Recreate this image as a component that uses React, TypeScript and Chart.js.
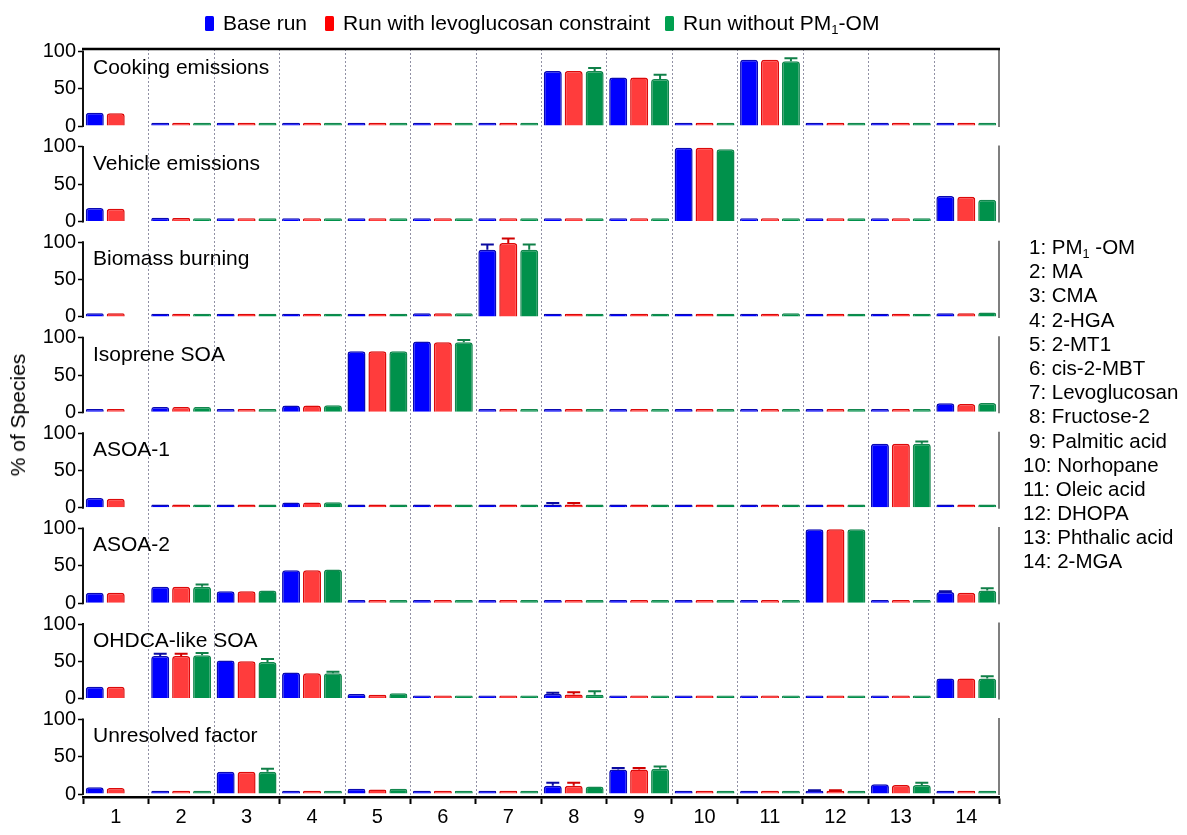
import React, { useEffect, useRef } from "react";
import { Chart, registerables } from "chart.js";

Chart.register(...registerables);

const FONT = '"Liberation Sans", Arial, Helvetica, sans-serif';

// ---------- categories / labels ----------
const categories = ["1", "2", "3", "4", "5", "6", "7", "8", "9", "10", "11", "12", "13", "14"];
const speciesNames = [
  "PM1 -OM", "MA", "CMA", "2-HGA", "2-MT1", "cis-2-MBT", "Levoglucosan",
  "Fructose-2", "Palmitic acid", "Norhopane", "Oleic acid", "DHOPA", "Phthalic acid", "2-MGA",
];
const seriesNames = ["Base run", "Run with levoglucosan constraint", "Run without PM1-OM"];
const panelTitles = [
  "Cooking emissions", "Vehicle emissions", "Biomass burning", "Isoprene SOA",
  "ASOA-1", "ASOA-2", "OHDCA-like SOA", "Unresolved factor",
];
const yTickValues = [0, 50, 100];

// ---------- values (% of species) ----------
const cookingBase = [18, 1, 0.5, 0.5, 0.8, 0.5, 2.5, 74, 65, 0.5, 89, 0.5, 0.5, 1.5];
const cookingLev = [17, 0.8, 0.5, 0.5, 0.5, 0.5, 0.3, 74, 65, 0.5, 89, 0.5, 0.5, 1];
const cookingNoPM = [null, 0.5, 0.5, 0.5, 0.8, 0.5, 2, 74, 63, 0.5, 87, 0.5, 0.5, 2];
const cookingBaseErr = [0, 0, 0, 0, 0, 0, 0, 0, 0, 0, 0, 0, 0, 0];
const cookingLevErr = [0, 0, 0, 0, 0, 0, 0, 0, 0, 0, 0, 0, 0, 0];
const cookingNoPMErr = [0, 0, 0, 0, 0, 0, 0, 4, 6, 0, 4, 0, 0, 0];

const vehicleBase = [18, 5, 0.5, 0.5, 0.8, 0.5, 0.5, 0.5, 0.8, 99, 0.8, 0.5, 0.5, 34];
const vehicleLev = [17, 4.5, 0.5, 0.5, 0.8, 0.5, 0.5, 0.5, 0.5, 99, 0.5, 0.5, 0.5, 33];
const vehicleNoPM = [null, 3, 0.5, 0.5, 0.5, 0.5, 0.5, 0.5, 0.5, 97, 0.5, 0.5, 0.5, 29];
const vehicleBaseErr = [0, 0, 0, 0, 0, 0, 0, 0, 0, 0, 0, 0, 0, 0];
const vehicleLevErr = [0, 0, 0, 0, 0, 0, 0, 0, 0, 0, 0, 0, 0, 0];
const vehicleNoPMErr = [0, 0, 0, 0, 0, 0, 0, 0, 0, 0, 0, 0, 0, 0];

const biomassBase = [5, 1.5, 0.5, 0.5, 0.5, 5, 90, 0.5, 0.5, 0.5, 4, 0.5, 0.5, 5];
const biomassLev = [5, 1.5, 0.5, 0.5, 0.5, 5, 99, 0.5, 0.5, 0.5, 4, 0.5, 0.5, 5];
const biomassNoPM = [null, 0.5, 0.5, 0.5, 0.5, 5, 90, 0.5, 1, 1.5, 5, 0.5, 0.5, 6];
const biomassBaseErr = [0, 0, 0, 0, 0, 0, 7, 0, 0, 0, 0, 0, 0, 0];
const biomassLevErr = [0, 0, 0, 0, 0, 0, 6, 0, 0, 0, 0, 0, 0, 0];
const biomassNoPMErr = [0, 0, 0, 0, 0, 0, 7, 0, 0, 0, 0, 0, 0, 0];

const isopreneBase = [3, 7, 0.5, 9, 82, 95, 2, 2.5, 0.5, 0.5, 0.5, 0.5, 0.5, 12];
const isopreneLev = [3, 7, 0.5, 9, 82, 94, 0.3, 2, 0.5, 0.5, 0.5, 0.5, 0.5, 11];
const isopreneNoPM = [null, 7, 0.5, 9.5, 82, 94, 1.5, 1.5, 0.5, 0.5, 0.5, 0.5, 0.5, 12.5];
const isopreneBaseErr = [0, 0, 0, 0, 0, 0, 0, 0, 0, 0, 0, 0, 0, 0];
const isopreneLevErr = [0, 0, 0, 0, 0, 0, 0, 0, 0, 0, 0, 0, 0, 0];
const isopreneNoPMErr = [0, 0, 0, 0, 0, 3, 0, 0, 0, 0, 0, 0, 0, 0];

const asoa1Base = [13, 2, 0.5, 7, 0.5, 0.5, 0.5, 3.5, 0.5, 0.5, 2.5, 0.5, 86, 2];
const asoa1Lev = [12, 2, 0.5, 7, 0.5, 0.5, 0.5, 3.5, 0.5, 0.5, 1.5, 0.5, 86, 2];
const asoa1NoPM = [null, 1, 0.5, 7.5, 0.5, 0.5, 0.5, 2.5, 0.5, 0.5, 1.5, 0.5, 86, 2];
const asoa1BaseErr = [0, 0, 0, 0, 0, 0, 0, 3, 0, 0, 0, 0, 0, 0];
const asoa1LevErr = [0, 0, 0, 0, 0, 0, 0, 3, 0, 0, 0, 0, 0, 0];
const asoa1NoPMErr = [0, 0, 0, 0, 0, 0, 0, 0, 0, 0, 0, 0, 3, 0];

const asoa2Base = [14, 22, 16, 44, 3, 0.5, 0.5, 0.5, 0.5, 0.5, 3, 99, 0.5, 15];
const asoa2Lev = [14, 22, 16, 44, 2, 0.5, 0.3, 0.5, 0.5, 0.5, 2, 99, 0.5, 14];
const asoa2NoPM = [null, 22, 17, 45, 2, 0.5, 0.5, 0.5, 0.5, 0.5, 2, 99, 0.5, 17];
const asoa2BaseErr = [0, 0, 0, 0, 0, 0, 0, 0, 0, 0, 0, 0, 0, 1];
const asoa2LevErr = [0, 0, 0, 0, 0, 0, 0, 0, 0, 0, 0, 0, 0, 0];
const asoa2NoPMErr = [0, 3, 0, 0, 0, 0, 0, 0, 0, 0, 0, 0, 0, 3];

const ohdcaBase = [16, 57, 51, 35, 6, 0.5, 1.5, 6, 0.5, 0.5, 0.5, 0.5, 0.5, 27];
const ohdcaLev = [16, 57, 50, 34, 5, 0.5, 0.3, 5.5, 0.5, 0.5, 0.5, 0.5, 0.5, 27];
const ohdcaNoPM = [null, 58, 49, 34, 7, 0.5, 1, 5, 0.5, 0.5, 0.5, 0.5, 0.5, 27];
const ohdcaBaseErr = [0, 3, 0, 0, 0, 0, 0, 2, 0, 0, 0, 0, 0, 0];
const ohdcaLevErr = [0, 3, 0, 0, 0, 0, 0, 3, 0, 0, 0, 0, 0, 0];
const ohdcaNoPMErr = [0, 3, 4, 2, 0, 0, 0, 5, 0, 0, 0, 0, 0, 3];

const unresolvedBase = [9, 3.5, 30, 0.8, 7, 0.8, 2, 11, 33, 0.5, 0.5, 2, 13, 0.5];
const unresolvedLev = [8, 3, 30, 0.5, 6, 0.5, 0.3, 11, 33, 0.5, 0.5, 2, 12, 0.5];
const unresolvedNoPM = [null, 3.5, 30, 0.5, 7, 0.5, 1.5, 10, 34, 0.5, 0.5, 0.5, 12, 0.5];
const unresolvedBaseErr = [0, 0, 0, 0, 0, 0, 0, 4, 2, 0, 0, 3, 0, 0];
const unresolvedLevErr = [0, 0, 0, 0, 0, 0, 0, 4, 2, 0, 0, 3, 0, 0];
const unresolvedNoPMErr = [0, 0, 4, 0, 0, 0, 0, 0, 3, 0, 0, 0, 3, 0];

const panelValues = [
  [cookingBase, cookingLev, cookingNoPM],
  [vehicleBase, vehicleLev, vehicleNoPM],
  [biomassBase, biomassLev, biomassNoPM],
  [isopreneBase, isopreneLev, isopreneNoPM],
  [asoa1Base, asoa1Lev, asoa1NoPM],
  [asoa2Base, asoa2Lev, asoa2NoPM],
  [ohdcaBase, ohdcaLev, ohdcaNoPM],
  [unresolvedBase, unresolvedLev, unresolvedNoPM],
];
const panelErrors = [
  [cookingBaseErr, cookingLevErr, cookingNoPMErr],
  [vehicleBaseErr, vehicleLevErr, vehicleNoPMErr],
  [biomassBaseErr, biomassLevErr, biomassNoPMErr],
  [isopreneBaseErr, isopreneLevErr, isopreneNoPMErr],
  [asoa1BaseErr, asoa1LevErr, asoa1NoPMErr],
  [asoa2BaseErr, asoa2LevErr, asoa2NoPMErr],
  [ohdcaBaseErr, ohdcaLevErr, ohdcaNoPMErr],
  [unresolvedBaseErr, unresolvedLevErr, unresolvedNoPMErr],
];

// ---------- styles ----------
const seriesKeys = ["base", "lev", "nopm"];
const seriesFill = ["#0000FF", "#FF3C3C", "#00914B"];
const seriesBorder = ["#0A0AB4", "#DC0A0A", "#13874E"];
const seriesErr = ["#0A0AA0", "#D00000", "#108048"];
const legendColors = ["#0000FF", "#FF0000", "#00A050"];

function withSub(text: string) {
  const idx = text.indexOf("PM1");
  if (idx < 0) return text;
  return (
    <>
      {text.slice(0, idx)}PM
      <sub style={{ fontSize: "0.62em", lineHeight: 0, verticalAlign: "-0.3em" }}>1</sub>
      {text.slice(idx + 3)}
    </>
  );
}

const panelDecor = {
  id: "panelDecor",
  beforeDatasetsDraw(chart: any) {
    const { ctx, chartArea } = chart;
    const x = chart.scales.x;
    ctx.save();
    ctx.strokeStyle = "#9090a4";
    ctx.lineWidth = 1;
    ctx.setLineDash([2, 2]);
    for (let k = 1; k < categories.length; k++) {
      const px = Math.round((x.getPixelForValue(k - 1) + x.getPixelForValue(k)) / 2) + 0.5;
      ctx.beginPath();
      ctx.moveTo(px, chartArea.top);
      ctx.lineTo(px, chartArea.bottom);
      ctx.stroke();
    }
    ctx.restore();
  },
  afterDatasetsDraw(chart: any) {
    const { ctx, chartArea } = chart;
    ctx.save();
    // error bars
    chart.data.datasets.forEach((ds: any, di: number) => {
      const meta = chart.getDatasetMeta(di);
      const yScale = chart.scales[meta.yAxisID];
      ds.errors.forEach((err: number, i: number) => {
        const v = ds.data[i];
        if (!err || v == null) return;
        const bar: any = meta.data[i];
        const props = bar.getProps(["x", "y", "width"], true);
        const top = yScale.getPixelForValue(v + err);
        ctx.strokeStyle = ds.errColor;
        ctx.lineWidth = 2;
        ctx.beginPath();
        ctx.moveTo(props.x, props.y);
        ctx.lineTo(props.x, top);
        ctx.moveTo(props.x - props.width * 0.36, top);
        ctx.lineTo(props.x + props.width * 0.36, top);
        ctx.stroke();
      });
    });
    // axes lines, right borders, titles
    panelTitles.forEach((title, p) => {
      const ys = chart.scales["y" + p];
      const y0 = ys.getPixelForValue(0);
      const y100 = ys.getPixelForValue(100);
      const yTop = p === 0 ? chartArea.top : ys.getPixelForValue(102);
      ctx.strokeStyle = "#111";
      ctx.lineWidth = 2;
      ctx.beginPath();
      ctx.moveTo(chartArea.left, y0 + 1);
      ctx.lineTo(chartArea.left, y100 - 1);
      ctx.stroke();
      ctx.strokeStyle = "#555";
      ctx.lineWidth = 1.5;
      ctx.beginPath();
      ctx.moveTo(chartArea.right, y0 + 1);
      ctx.lineTo(chartArea.right, yTop);
      ctx.stroke();
      ctx.fillStyle = "#000";
      ctx.font = `21px ${FONT}`;
      ctx.textBaseline = "middle";
      ctx.textAlign = "left";
      ctx.fillText(title, chartArea.left + 10, y100 + 17);
    });
    // top frame
    ctx.strokeStyle = "#000";
    ctx.lineWidth = 2.5;
    ctx.beginPath();
    ctx.moveTo(chartArea.left - 1, chartArea.top);
    ctx.lineTo(chartArea.right + 1, chartArea.top);
    ctx.stroke();
    ctx.restore();
  },
};

function buildConfig(): any {
  const datasets: any[] = [];
  panelValues.forEach((series, p) => {
    series.forEach((vals, s) => {
      datasets.push({
        label: seriesNames[s],
        data: vals,
        errors: panelErrors[p][s],
        errColor: seriesErr[s],
        yAxisID: "y" + p,
        stack: seriesKeys[s],
        backgroundColor: seriesFill[s],
        borderColor: seriesBorder[s],
        borderWidth: 1.5,
        borderRadius: 3,
        borderSkipped: "start",
        minBarLength: 3.2,
        categoryPercentage: 0.96,
        barPercentage: 0.86,
      });
    });
  });

  const scales: any = {
    x: {
      type: "category",
      stacked: true,
      offset: true,
      afterFit: (s: any) => {
        s.height = 38;
      },
      grid: {
        offset: true,
        drawOnChartArea: false,
        drawTicks: true,
        tickLength: 7,
        tickWidth: 2,
        tickColor: "#000",
      },
      border: { display: true, color: "#000", width: 2.5 },
      ticks: { color: "#000", font: { family: FONT, size: 20 }, padding: 1, maxRotation: 0 },
    },
  };
  panelTitles.forEach((_, p) => {
    scales["y" + p] = {
      type: "linear",
      position: "left",
      stack: "panels",
      stackWeight: p === 0 ? 80 : 95.4,
      weight: 10 - p,
      stacked: false,
      min: -4,
      max: p === 0 ? 103.4 : 124,
      afterBuildTicks: (s: any) => {
        s.ticks = yTickValues.map((v) => ({ value: v }));
      },
      afterFit: (s: any) => {
        s.width = 60;
      },
      grid: {
        drawOnChartArea: false,
        drawTicks: true,
        tickLength: 5,
        tickWidth: 1.5,
        tickColor: "#000",
      },
      border: { display: false },
      ticks: { color: "#000", font: { family: FONT, size: 20 }, padding: 2, autoSkip: false },
    };
  });

  return {
    type: "bar",
    data: { labels: categories, datasets },
    options: {
      responsive: false,
      animation: false,
      devicePixelRatio: 1,
      layout: { padding: { left: 23, right: 188, top: 49, bottom: 0 } },
      plugins: { legend: { display: false }, tooltip: { enabled: false } },
      scales,
    },
    plugins: [panelDecor],
  };
}

export default function App() {
  const canvasRef = useRef<HTMLCanvasElement | null>(null);
  useEffect(() => {
    document.body.style.margin = "0";
    const chart = new Chart(canvasRef.current as HTMLCanvasElement, buildConfig());
    return () => chart.destroy();
  }, []);

  return (
    <div
      style={{
        position: "absolute",
        left: 0,
        top: 0,
        width: 1187,
        height: 835,
        overflow: "hidden",
        background: "#fff",
        fontFamily: FONT,
        color: "#000",
      }}
    >
      <canvas ref={canvasRef} width={1187} height={835} style={{ position: "absolute", left: 0, top: 0 }} />
      {/* legend */}
      <div
        style={{
          position: "absolute",
          left: 205,
          top: 10,
          height: 26,
          display: "flex",
          alignItems: "center",
          fontSize: 21,
          whiteSpace: "nowrap",
        }}
      >
        {seriesNames.map((name, i) => (
          <div key={name} style={{ display: "flex", alignItems: "center", marginRight: i === 0 ? 18 : 15 }}>
            <span
              style={{
                display: "inline-block",
                width: 9,
                height: 15,
                background: legendColors[i],
                borderRadius: 1.5,
                marginRight: 9,
              }}
            />
            <span>{withSub(name)}</span>
          </div>
        ))}
      </div>
      {/* y axis title */}
      <div
        style={{
          position: "absolute",
          left: 18,
          top: 415,
          transform: "translate(-50%, -50%) rotate(-90deg)",
          fontSize: 21,
          whiteSpace: "nowrap",
        }}
      >
        % of Species
      </div>
      {/* species list */}
      <div
        style={{
          position: "absolute",
          left: 1023,
          top: 235,
          fontSize: 20.5,
          lineHeight: "24.2px",
          whiteSpace: "nowrap",
        }}
      >
        {speciesNames.map((n, i) => (
          <div key={n} style={{ paddingLeft: i < 9 ? 6 : 0, height: 24.2 }}>
            {i + 1}: {withSub(n)}
          </div>
        ))}
      </div>
    </div>
  );
}
